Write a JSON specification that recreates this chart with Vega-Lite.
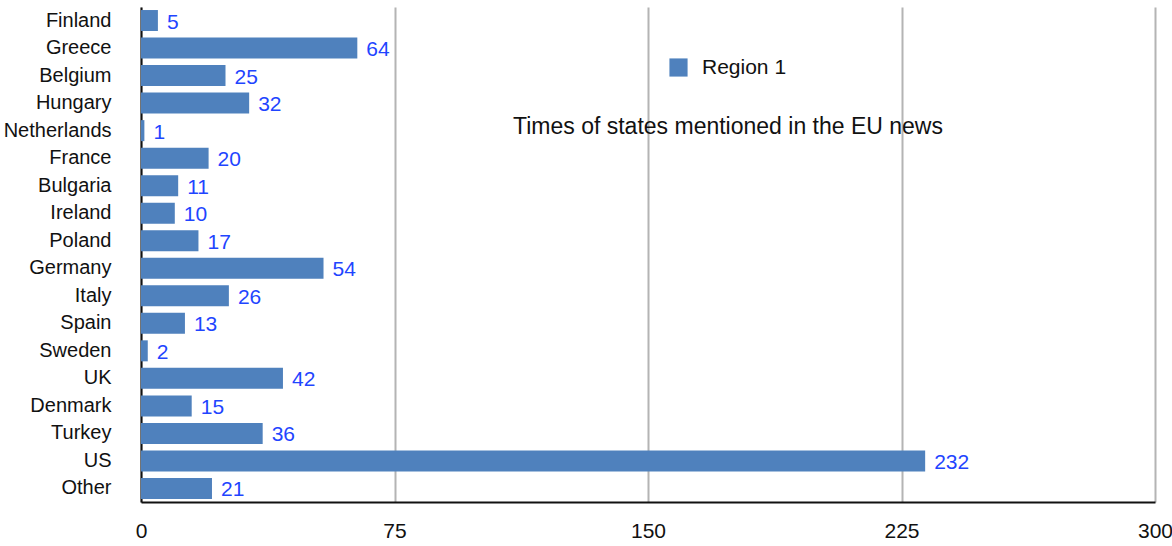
{
  "$schema": "https://vega.github.io/schema/vega-lite/v6.json",
  "autosize": "none",
  "width": 1014,
  "height": 495,
  "padding": {"left": 141, "top": 7, "right": 17, "bottom": 44},
  "background": "white",
  "config": {
    "font": "Liberation Sans",
    "view": {"stroke": null}
  },
  "title": {
    "text": "Times of states mentioned in the EU news",
    "orient": "top",
    "anchor": "start",
    "frame": "group",
    "font": "Liberation Sans",
    "fontSize": 23,
    "fontWeight": "normal",
    "color": "#111111",
    "baseline": "top",
    "offset": 0,
    "dx": 372,
    "dy": 132
  },
  "data": {
    "values": [
      {"country": "Finland", "mentions": 5},
      {"country": "Greece", "mentions": 64},
      {"country": "Belgium", "mentions": 25},
      {"country": "Hungary", "mentions": 32},
      {"country": "Netherlands", "mentions": 1},
      {"country": "France", "mentions": 20},
      {"country": "Bulgaria", "mentions": 11},
      {"country": "Ireland", "mentions": 10},
      {"country": "Poland", "mentions": 17},
      {"country": "Germany", "mentions": 54},
      {"country": "Italy", "mentions": 26},
      {"country": "Spain", "mentions": 13},
      {"country": "Sweden", "mentions": 2},
      {"country": "UK", "mentions": 42},
      {"country": "Denmark", "mentions": 15},
      {"country": "Turkey", "mentions": 36},
      {"country": "US", "mentions": 232},
      {"country": "Other", "mentions": 21}
    ]
  },
  "encoding": {
    "y": {
      "field": "country",
      "type": "nominal",
      "sort": null,
      "scale": {"paddingInner": 0.237, "paddingOuter": 0.11},
      "axis": {
        "title": null,
        "ticks": false,
        "domain": true,
        "domainColor": "#111111",
        "domainWidth": 2,
        "labelFont": "Liberation Sans",
        "labelFontSize": 20,
        "labelColor": "#111111",
        "labelPadding": 30
      }
    },
    "x": {
      "field": "mentions",
      "type": "quantitative",
      "scale": {"domain": [0, 300], "nice": false},
      "axis": {
        "title": null,
        "values": [0, 75, 150, 225, 300],
        "ticks": false,
        "domainColor": "#111111",
        "domainWidth": 2,
        "grid": true,
        "gridColor": "#b4b4b4",
        "gridWidth": 2,
        "labelFont": "Liberation Sans",
        "labelFontSize": 21,
        "labelColor": "#111111",
        "labelPadding": 18,
        "labelFlush": false
      }
    }
  },
  "layer": [
    {
      "mark": {"type": "bar", "color": "#4f81bd"},
      "encoding": {
        "color": {
          "datum": "Region 1",
          "scale": {"range": ["#4f81bd"]},
          "legend": {
            "title": null,
            "orient": "none",
            "legendX": 527,
            "legendY": 50,
            "symbolType": "square",
            "symbolSize": 330,
            "symbolStrokeWidth": 0,
            "labelFont": "Liberation Sans",
            "labelFontSize": 21,
            "labelColor": "#111111",
            "labelOffset": 13
          }
        }
      }
    },
    {
      "mark": {
        "type": "text",
        "align": "left",
        "baseline": "middle",
        "dx": 9,
        "dy": 2,
        "font": "Liberation Sans",
        "fontSize": 21,
        "color": "#1f45ff"
      },
      "encoding": {
        "text": {"field": "mentions", "type": "quantitative"}
      }
    }
  ]
}
